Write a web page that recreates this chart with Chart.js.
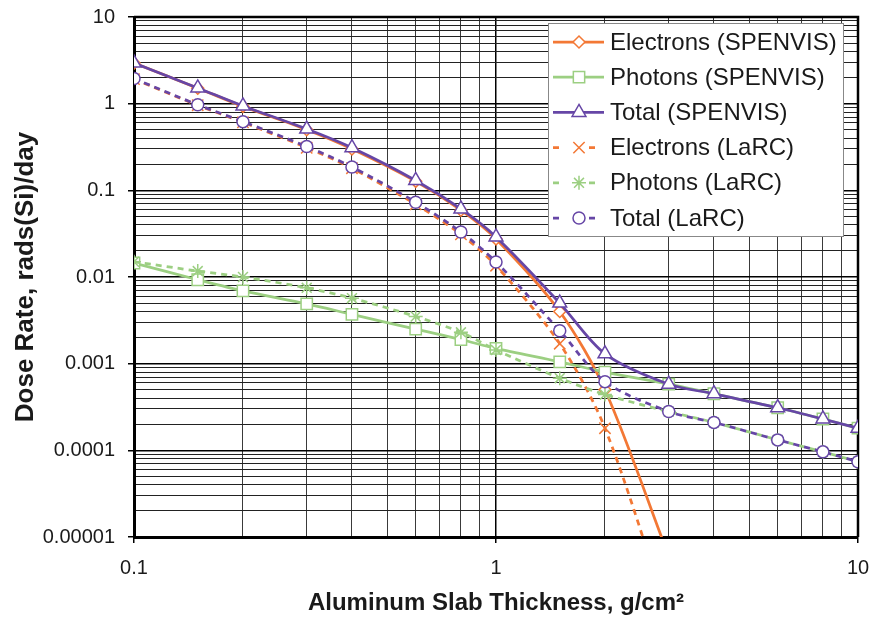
<!DOCTYPE html>
<html>
<head>
<meta charset="utf-8">
<title>Dose Rate vs Aluminum Slab Thickness</title>
<script src="https://cdn.jsdelivr.net/npm/chart.js@4.4.1/dist/chart.umd.min.js"></script>
<style>
  html, body { margin: 0; padding: 0; background: #fff; }
</style>
</head>
<body>
<canvas id="chart_dose" width="875" height="620"></canvas>
<script>
// thickness in g/cm2, dose in rads(Si)/day
const thickness = [0.1, 0.15, 0.2, 0.3, 0.4, 0.6, 0.8, 1, 1.5, 2, 3, 4, 6, 8, 10];

const electronsSpenvis = [2.94, 1.51, 0.93, 0.50, 0.30, 0.127, 0.059, 0.0275, 0.0040, 0.0005, 0.000006, null, null, null, null];
const photonsSpenvis = [0.0145, 0.0093, 0.0069, 0.0049, 0.0037, 0.0025, 0.0019, 0.0015, 0.00105, 0.0008, 0.00058, 0.00045, 0.00031, 0.00023, 0.00018];
const totalSpenvis = [2.95, 1.52, 0.94, 0.51, 0.31, 0.13, 0.061, 0.029, 0.0050, 0.0013, 0.00058, 0.00045, 0.00031, 0.00023, 0.00018];
const electronsLarc = [1.92, 0.96, 0.61, 0.31, 0.18, 0.069, 0.031, 0.0135, 0.0017, 0.00018, 0.0000012, null, null, null, null];
const photonsLarc = [0.015, 0.0117, 0.010, 0.0075, 0.0057, 0.0035, 0.0023, 0.00144, 0.00068, 0.00044, 0.00028, 0.00021, 0.000132, 0.000096, 0.000074];
const totalLarc = [1.95, 0.97, 0.62, 0.32, 0.186, 0.073, 0.033, 0.0149, 0.0024, 0.00062, 0.00028, 0.00021, 0.000132, 0.000096, 0.000074];

const xTickLabels = ['0.1', '1', '10'];
const yTickLabels = ['0.00001', '0.0001', '0.001', '0.01', '0.1', '1', '10'];

const ORANGE = '#F37835';
const GREEN = '#9CCF82';
const PURPLE = '#6646A6';

const xDecades = xTickLabels.map(parseFloat);
const yDecades = yTickLabels.map(parseFloat);

function isDecade(v) {
    const l = Math.log10(v);
    return Math.abs(l - Math.round(l)) < 1e-6;
}

// 1..9 in every decade, for the grid
function logTicks(decades) {
    const out = [];
    decades.forEach((d, i) => {
        if (i === decades.length - 1) { out.push(d); return; }
        for (let k = 1; k < 10; k++) out.push(d * k);
    });
    return out;
}

function labelFor(v, decades, labels) {
    const i = decades.findIndex(d => Math.abs(d - v) / d < 1e-6);
    return i >= 0 ? labels[i] : '';
}

const toPoints = ys => thickness.map((x, i) => ({x: x, y: ys[i]}));

function series(label, ys, color, pointStyle, radius, dashed, order) {
    return {
        label: label,
        data: toPoints(ys),
        borderColor: color,
        backgroundColor: color,
        borderWidth: 2.75,
        borderDash: dashed ? [6, 5] : [],
        pointStyle: pointStyle,
        pointRadius: radius,
        pointBorderWidth: 1.5,
        pointBorderColor: color,
        pointBackgroundColor: '#fff',
        tension: 0.3,
        spanGaps: false,
        order: order,
        dashedLegend: dashed
    };
}

const frame = {
    id: 'frame',
    beforeDatasetsDraw(chart) {
        const {ctx, chartArea: a} = chart;
        ctx.save();
        ctx.strokeStyle = '#000';
        ctx.lineWidth = 2.5;
        ctx.beginPath();
        ctx.moveTo(a.left, a.top);
        ctx.lineTo(a.right, a.top);
        ctx.lineTo(a.right, a.bottom);
        ctx.stroke();
        ctx.restore();
    }
};

const boxLegend = {
    id: 'boxLegend',
    afterDraw(chart) {
        const {ctx, chartArea: a} = chart;
        const left = a.right - 310, top = a.top + 6, w = 295, h = 213;
        ctx.save();
        ctx.fillStyle = '#fff';
        ctx.fillRect(left, top, w, h);
        ctx.strokeStyle = '#888';
        ctx.lineWidth = 1;
        ctx.strokeRect(left + 0.5, top + 0.5, w, h);
        chart.data.datasets.forEach((ds, i) => {
            const y = top + 19 + i * 35.2;
            const x0 = left + 5, x1 = left + 56, xm = left + 31;
            ctx.strokeStyle = ds.borderColor;
            ctx.lineWidth = ds.borderWidth;
            ctx.setLineDash([]);
            ctx.beginPath();
            if (ds.dashedLegend) {
                ctx.moveTo(x0, y); ctx.lineTo(x0 + 6, y);
                ctx.moveTo(x0 + 36, y); ctx.lineTo(x0 + 42, y);
            } else {
                ctx.moveTo(x0, y); ctx.lineTo(x1, y);
            }
            ctx.stroke();
            ctx.fillStyle = '#fff';
            ctx.lineWidth = ds.pointBorderWidth;
            Chart.helpers.drawPoint(ctx, {pointStyle: ds.pointStyle, radius: ds.pointRadius, borderWidth: ds.pointBorderWidth, rotation: 0}, xm, y);
            ctx.fillStyle = '#1a1a1a';
            ctx.font = '24px "Liberation Sans", Arial, sans-serif';
            ctx.textBaseline = 'middle';
            ctx.textAlign = 'left';
            ctx.fillText(ds.label, left + 62, y + 1);
        });
        ctx.restore();
    }
};

const ctxDose = document.getElementById('chart_dose');
const doseChart = new Chart(ctxDose, {
    type: 'line',
    data: {
        datasets: [
            series('Electrons (SPENVIS)', electronsSpenvis, ORANGE, 'rectRot', 6, false, 6),
            series('Photons (SPENVIS)', photonsSpenvis, GREEN, 'rect', 8, false, 5),
            series('Total (SPENVIS)', totalSpenvis, PURPLE, 'triangle', 8, false, 4),
            series('Electrons (LaRC)', electronsLarc, ORANGE, 'crossRot', 8, true, 3),
            series('Photons (LaRC)', photonsLarc, GREEN, 'star', 7, true, 2),
            series('Total (LaRC)', totalLarc, PURPLE, 'circle', 6, true, 1)
        ]
    },
    options: {
        responsive: false,
        animation: false,
        layout: { padding: { top: 17, right: 17, left: 0, bottom: 0 } },
        plugins: {
            legend: { display: false },
            tooltip: { enabled: false }
        },
        scales: {
            x: {
                type: 'logarithmic',
                min: 0.1,
                max: 10,
                afterBuildTicks: s => { s.ticks = logTicks(xDecades).map(v => ({value: v})); },
                afterFit: s => { s.height = 83; s.paddingLeft = 0; s.paddingRight = 0; },
                ticks: {
                    autoSkip: false,
                    maxRotation: 0,
                    padding: 13,
                    color: '#1a1a1a',
                    font: { family: '"Liberation Sans", Arial, sans-serif', size: 20 },
                    callback: v => labelFor(v, xDecades, xTickLabels)
                },
                grid: {
                    color: c => isDecade(c.tick.value) ? '#000' : '#3a3a3a',
                    lineWidth: c => isDecade(c.tick.value) ? 1.5 : 1,
                    tickLength: 6,
                    tickWidth: 1.5,
                    tickColor: c => isDecade(c.tick.value) ? '#000' : 'rgba(0,0,0,0)'
                },
                border: { color: '#000', width: 3 },
                title: {
                    display: true,
                    text: 'Aluminum Slab Thickness, g/cm²',
                    color: '#1a1a1a',
                    font: { family: '"Liberation Sans", Arial, sans-serif', size: 24, weight: 'bold' },
                    padding: { top: 0, bottom: 2 }
                }
            },
            y: {
                type: 'logarithmic',
                min: 0.00001,
                max: 10,
                afterBuildTicks: s => { s.ticks = logTicks(yDecades).map(v => ({value: v})); },
                afterFit: s => { s.width = 134; s.paddingTop = 0; s.paddingBottom = 0; },
                ticks: {
                    autoSkip: false,
                    padding: 13,
                    color: '#1a1a1a',
                    font: { family: '"Liberation Sans", Arial, sans-serif', size: 20 },
                    callback: v => labelFor(v, yDecades, yTickLabels)
                },
                grid: {
                    color: c => isDecade(c.tick.value) ? '#000' : '#222',
                    lineWidth: c => isDecade(c.tick.value) ? 1.5 : 1,
                    tickLength: 6,
                    tickWidth: 1.5,
                    tickColor: c => isDecade(c.tick.value) ? '#000' : 'rgba(0,0,0,0)'
                },
                border: { color: '#000', width: 3 },
                title: {
                    display: true,
                    text: 'Dose Rate, rads(Si)/day',
                    color: '#1a1a1a',
                    font: { family: '"Liberation Sans", Arial, sans-serif', size: 26, weight: 'bold' },
                    padding: { top: 10, bottom: 0 }
                }
            }
        }
    },
    plugins: [frame, boxLegend]
});
</script>
</body>
</html>
